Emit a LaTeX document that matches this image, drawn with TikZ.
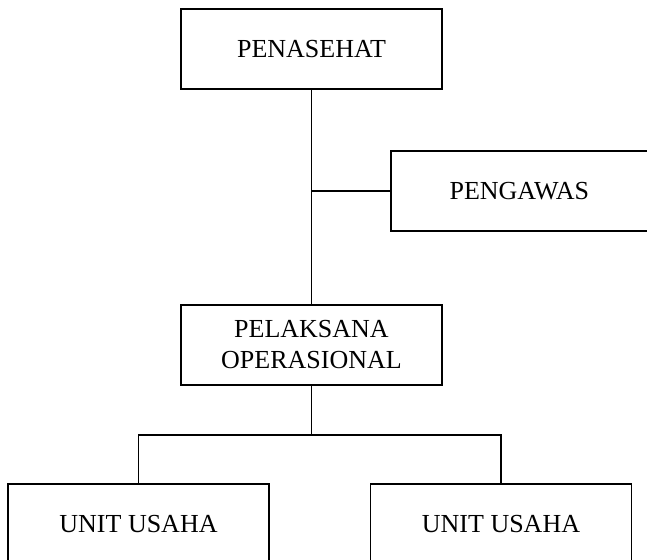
\documentclass[tikz,border=0pt]{standalone}
\usepackage{fontspec}
\setmainfont{Liberation Serif}
\usetikzlibrary{positioning}
\tikzset{
  orgbox/.style={
    rectangle,
    draw=black,
    line width=0.9pt,
    minimum width=130.5pt,
    minimum height=40pt,
    inner sep=0pt,
    text centered,
    align=center,
    font=\fontsize{13}{15.3}\selectfont
  },
  link/.style={
    line width=0.9pt,
  },
}
\begin{document}
\begin{tikzpicture}

  \useasboundingbox (0,0) rectangle (323.5pt,-279.5pt);

  % Boxes
  \node (penasehat) [orgbox] at (155.75pt,-24.5pt) {PENASEHAT};
  \node (pengawas) [orgbox, minimum width=128.5pt,
    below right=30pt and -26.5pt of penasehat] {PENGAWAS};
  \node (pelaksana) [orgbox, below=107pt of penasehat] {PELAKSANA\\OPERASIONAL};
  \node (unitA) [orgbox, below=48.5pt of pelaksana, xshift=-86.5pt] {UNIT USAHA};
  \node (unitB) [orgbox, below=48.5pt of pelaksana, xshift=94.75pt] {UNIT USAHA};

  % Lines
  \draw [link] (penasehat.south) -- (pelaksana.north);
  \draw [link] (pengawas.west) -- (pengawas.west -| penasehat.south);
  \draw [link] (pelaksana.south) -- ++(0,-24.5pt) coordinate (split);
  \draw [link] (unitA.north) |- (split) -| (unitB.north);

\end{tikzpicture}
\end{document}
